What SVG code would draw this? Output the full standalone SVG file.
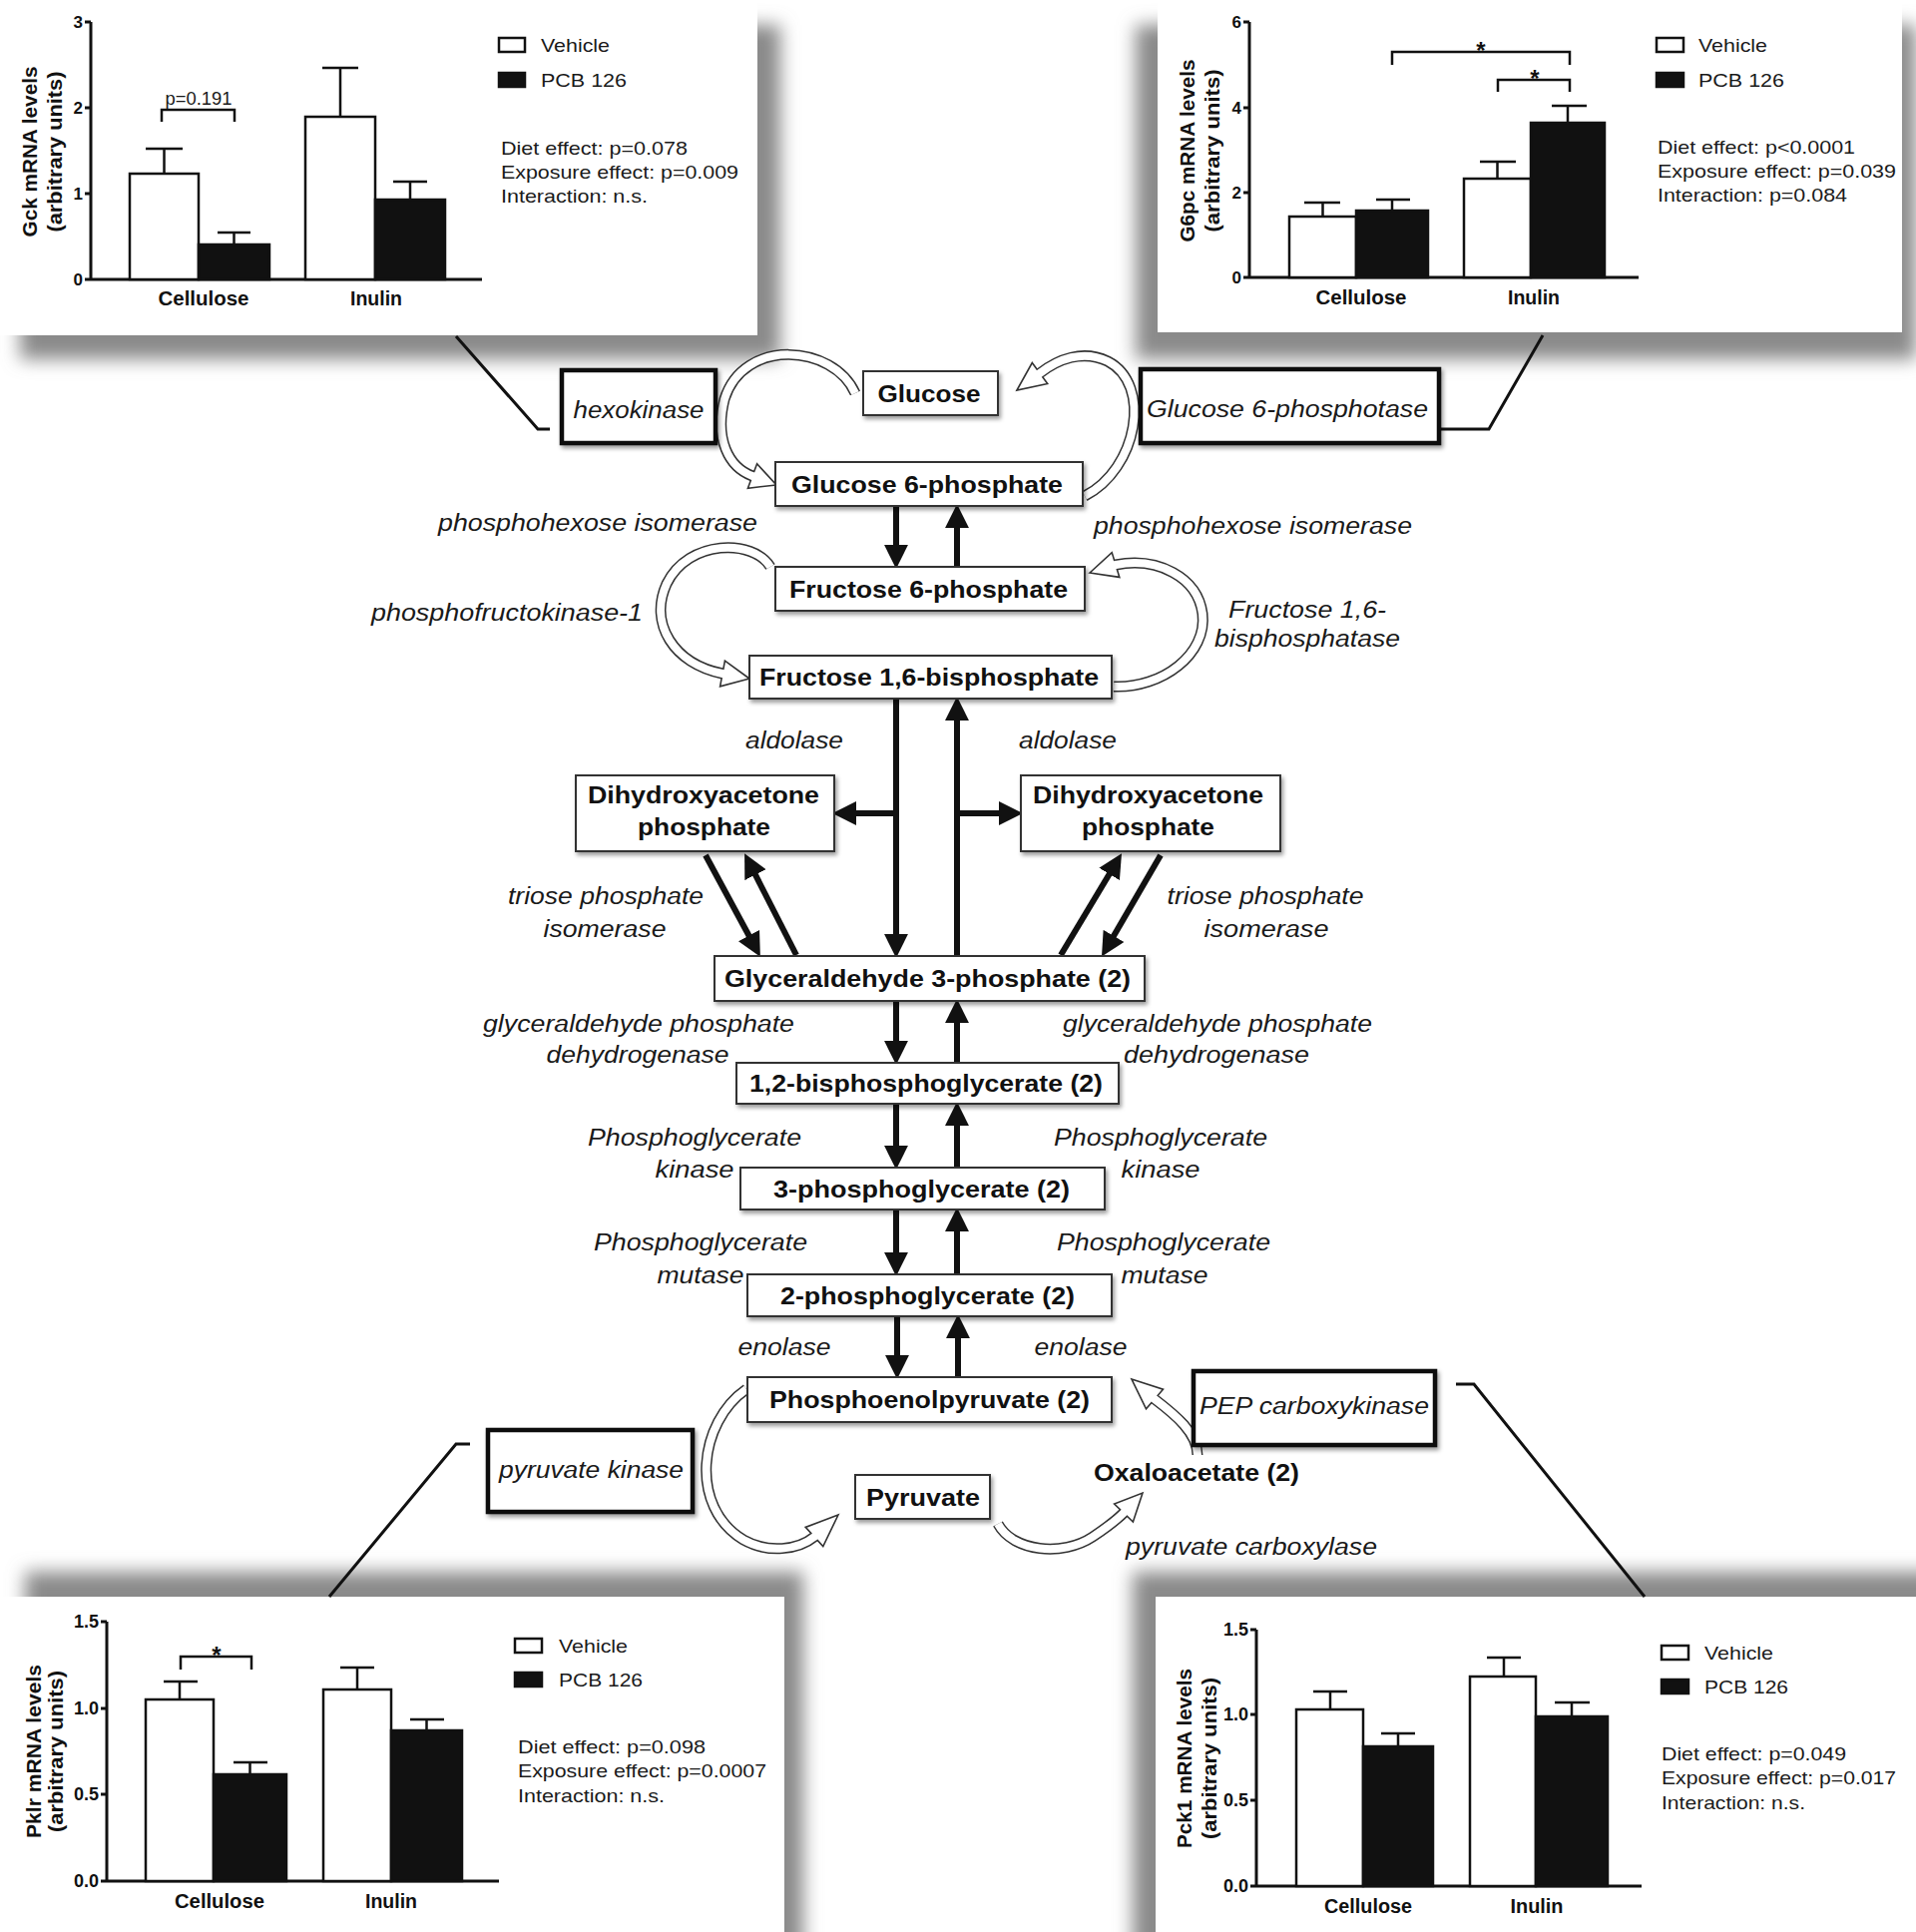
<svg xmlns="http://www.w3.org/2000/svg" width="1920" height="1936" viewBox="0 0 1920 1936">
<defs>
<filter id="blur" x="-10%" y="-20%" width="120%" height="140%"><feGaussianBlur stdDeviation="9"/></filter>
<filter id="ds" x="-10%" y="-20%" width="130%" height="160%"><feDropShadow dx="2" dy="3" stdDeviation="2" flood-color="#000" flood-opacity="0.4"/></filter>
<marker id="ah" markerUnits="userSpaceOnUse" markerWidth="24" markerHeight="24" viewBox="0 -11 22 22" refX="1" refY="0" orient="auto"><path d="M0,-11 L22,0 L0,11 z" fill="#111"/></marker>
<style>
.psh{fill:#8a8a8a;filter:url(#blur)}
.panel{fill:#fff}
.ax{stroke:#111;stroke-width:3;fill:none}
.bw{fill:#fff;stroke:#111;stroke-width:2.5}
.bk{fill:#111;stroke:#111;stroke-width:2.5}
.eb{stroke:#111;stroke-width:2.5;fill:none}
.ct{font-family:"Liberation Sans",Arial,Helvetica,sans-serif;font-size:19px;fill:#1a1a1a}
.cb{font-family:"Liberation Sans",Arial,Helvetica,sans-serif;font-size:20px;font-weight:bold;fill:#111;text-anchor:middle}
.tk{font-family:"Liberation Sans",Arial,Helvetica,sans-serif;font-size:17px;font-weight:bold;fill:#111;text-anchor:end}
.tk2{font-family:"Liberation Sans",Arial,Helvetica,sans-serif;font-size:18px;font-weight:bold;fill:#111;text-anchor:end}
.st{font-family:"Liberation Sans",Arial,Helvetica,sans-serif;font-size:24px;font-weight:bold;fill:#111;text-anchor:middle}
.node rect{fill:#fff;stroke:#333;stroke-width:2;filter:url(#ds)}
.enz rect{fill:#fff;stroke:#111;stroke-width:4.5;filter:url(#ds)}
.nt{font-family:"Liberation Sans",Arial,Helvetica,sans-serif;font-size:24px;font-weight:bold;fill:#111;text-anchor:middle}
.it{font-family:"Liberation Sans",Arial,Helvetica,sans-serif;font-size:23px;font-style:italic;fill:#1a1a1a;text-anchor:middle}
.sa{stroke:#111;stroke-width:6;marker-end:url(#ah)}
.ho{stroke:#333;stroke-width:11;fill:none}
.hi{stroke:#fff;stroke-width:8;fill:none}
.hh{fill:#fff;stroke:#333;stroke-width:1.6;stroke-linejoin:miter}
.cl{stroke:#111;stroke-width:3;fill:none}
</style>
</defs>
<rect width="1920" height="1936" fill="#fff"/>

<!-- panel shadows and panels -->
<rect class="psh" x="20" y="25" width="762" height="335"/>
<rect class="psh" x="1138" y="25" width="782" height="335"/>
<rect class="psh" x="25" y="1575" width="780" height="400"/>
<rect class="psh" x="1135" y="1575" width="820" height="400"/>
<rect class="panel" x="0" y="0" width="759" height="336"/>
<rect class="panel" x="1160" y="0" width="746" height="333"/>
<rect class="panel" x="0" y="1600" width="786" height="336"/>
<rect class="panel" x="1158" y="1600" width="762" height="336"/>

<!-- Gck chart -->
<g id="chart-gck">
<path class="ax" d="M91,22 V280 H483 M85,22 H91 M85,108 H91 M85,194 H91 M85,280 H91"/>
<text class="tk" x="83" y="28">3</text><text class="tk" x="83" y="114">2</text><text class="tk" x="83" y="200">1</text><text class="tk" x="83" y="286">0</text>
<rect class="bw" x="130" y="174" width="69" height="106"/>
<rect class="bk" x="199" y="245" width="71" height="35"/>
<rect class="bw" x="306" y="117" width="70" height="163"/>
<rect class="bk" x="376" y="200" width="70" height="80"/>
<path class="eb" d="M164.5,174 V149 M146,149 H183 M234.5,245 V233 M218,233 H251 M341,117 V68 M323,68 H359 M411,200 V182 M394,182 H428"/>
<path class="eb" d="M162,122 V110 H235 V122"/>
<text class="ct" x="199" y="105" text-anchor="middle" font-size="16" textLength="67" lengthAdjust="spacingAndGlyphs">p=0.191</text>
<text class="cb" x="204" y="306" textLength="91" lengthAdjust="spacingAndGlyphs">Cellulose</text>
<text class="cb" x="377" y="306" textLength="52" lengthAdjust="spacingAndGlyphs">Inulin</text>
<text class="cb" transform="translate(37,152) rotate(-90)" textLength="171" lengthAdjust="spacingAndGlyphs">Gck mRNA levels</text>
<text class="cb" transform="translate(62,152) rotate(-90)" textLength="161" lengthAdjust="spacingAndGlyphs">(arbitrary units)</text>
<rect class="bw" x="500" y="38" width="26" height="14"/>
<rect class="bk" x="500" y="73" width="26" height="14"/>
<text class="ct" x="542" y="52" textLength="69" lengthAdjust="spacingAndGlyphs">Vehicle</text>
<text class="ct" x="542" y="87" textLength="86" lengthAdjust="spacingAndGlyphs">PCB 126</text>
<text class="ct" x="502" y="155" textLength="187" lengthAdjust="spacingAndGlyphs">Diet effect: p=0.078</text>
<text class="ct" x="502" y="179" textLength="238" lengthAdjust="spacingAndGlyphs">Exposure effect: p=0.009</text>
<text class="ct" x="502" y="203" textLength="147" lengthAdjust="spacingAndGlyphs">Interaction: n.s.</text>
</g>

<!-- G6pc chart -->
<g id="chart-g6pc">
<path class="ax" d="M1252,22 V278 H1642 M1246,22 H1252 M1246,108 H1252 M1246,193 H1252 M1246,278 H1252"/>
<text class="tk" x="1244" y="28">6</text><text class="tk" x="1244" y="114">4</text><text class="tk" x="1244" y="199">2</text><text class="tk" x="1244" y="284">0</text>
<rect class="bw" x="1292" y="217" width="67" height="61"/>
<rect class="bk" x="1359" y="211" width="72" height="67"/>
<rect class="bw" x="1467" y="179" width="67" height="99"/>
<rect class="bk" x="1534" y="123" width="74" height="155"/>
<path class="eb" d="M1325.5,217 V203 M1307,203 H1343 M1395,211 V200 M1379,200 H1413 M1500.5,179 V162 M1483,162 H1519 M1571,123 V106 M1555,106 H1590"/>
<path class="eb" d="M1395,65 V52 H1573 V65 M1501,92 V80 H1573 V92"/>
<text class="st" x="1484" y="59">*</text>
<text class="st" x="1538" y="87">*</text>
<text class="cb" x="1364" y="305" textLength="91" lengthAdjust="spacingAndGlyphs">Cellulose</text>
<text class="cb" x="1537" y="305" textLength="52" lengthAdjust="spacingAndGlyphs">Inulin</text>
<text class="cb" transform="translate(1197,151) rotate(-90)" textLength="183" lengthAdjust="spacingAndGlyphs">G6pc mRNA levels</text>
<text class="cb" transform="translate(1222,151) rotate(-90)" textLength="163" lengthAdjust="spacingAndGlyphs">(arbitrary units)</text>
<rect class="bw" x="1660" y="38" width="27" height="14"/>
<rect class="bk" x="1660" y="73" width="27" height="14"/>
<text class="ct" x="1702" y="52" textLength="69" lengthAdjust="spacingAndGlyphs">Vehicle</text>
<text class="ct" x="1702" y="87" textLength="86" lengthAdjust="spacingAndGlyphs">PCB 126</text>
<text class="ct" x="1661" y="154" textLength="198" lengthAdjust="spacingAndGlyphs">Diet effect: p&lt;0.0001</text>
<text class="ct" x="1661" y="178" textLength="239" lengthAdjust="spacingAndGlyphs">Exposure effect: p=0.039</text>
<text class="ct" x="1661" y="202" textLength="190" lengthAdjust="spacingAndGlyphs">Interaction: p=0.084</text>
</g>

<!-- Pklr chart -->
<g id="chart-pklr">
<path class="ax" d="M107,1625 V1885 H500 M101,1625 H107 M101,1712 H107 M101,1798 H107 M101,1885 H107"/>
<text class="tk2" x="99" y="1631">1.5</text><text class="tk2" x="99" y="1718">1.0</text><text class="tk2" x="99" y="1804">0.5</text><text class="tk2" x="99" y="1891">0.0</text>
<rect class="bw" x="146" y="1703" width="68" height="182"/>
<rect class="bk" x="214" y="1778" width="73" height="107"/>
<rect class="bw" x="324" y="1693" width="68" height="192"/>
<rect class="bk" x="392" y="1734" width="71" height="151"/>
<path class="eb" d="M180,1703 V1685 M164,1685 H198 M250.5,1778 V1766 M234,1766 H268 M358,1693 V1671 M341,1671 H375 M427.5,1734 V1723 M411,1723 H445"/>
<path class="eb" d="M181,1673 V1660 H252 V1673"/>
<text class="st" x="217" y="1667">*</text>
<text class="cb" x="220" y="1912" textLength="90" lengthAdjust="spacingAndGlyphs">Cellulose</text>
<text class="cb" x="392" y="1912" textLength="52" lengthAdjust="spacingAndGlyphs">Inulin</text>
<text class="cb" transform="translate(41,1755) rotate(-90)" textLength="174" lengthAdjust="spacingAndGlyphs">Pklr mRNA levels</text>
<text class="cb" transform="translate(63,1755) rotate(-90)" textLength="162" lengthAdjust="spacingAndGlyphs">(arbitrary units)</text>
<rect class="bw" x="516" y="1642" width="27" height="14"/>
<rect class="bk" x="516" y="1676" width="27" height="14"/>
<text class="ct" x="560" y="1656" textLength="69" lengthAdjust="spacingAndGlyphs">Vehicle</text>
<text class="ct" x="560" y="1690" textLength="84" lengthAdjust="spacingAndGlyphs">PCB 126</text>
<text class="ct" x="519" y="1757" textLength="188" lengthAdjust="spacingAndGlyphs">Diet effect: p=0.098</text>
<text class="ct" x="519" y="1781" textLength="249" lengthAdjust="spacingAndGlyphs">Exposure effect: p=0.0007</text>
<text class="ct" x="519" y="1806" textLength="147" lengthAdjust="spacingAndGlyphs">Interaction: n.s.</text>
</g>

<!-- Pck1 chart -->
<g id="chart-pck1">
<path class="ax" d="M1259,1633 V1890 H1645 M1253,1633 H1259 M1253,1718 H1259 M1253,1804 H1259 M1253,1890 H1259"/>
<text class="tk2" x="1251" y="1639">1.5</text><text class="tk2" x="1251" y="1724">1.0</text><text class="tk2" x="1251" y="1810">0.5</text><text class="tk2" x="1251" y="1896">0.0</text>
<rect class="bw" x="1299" y="1713" width="67" height="177"/>
<rect class="bk" x="1366" y="1750" width="70" height="140"/>
<rect class="bw" x="1473" y="1680" width="66" height="210"/>
<rect class="bk" x="1539" y="1720" width="72" height="170"/>
<path class="eb" d="M1333,1713 V1695 M1316,1695 H1350 M1401,1750 V1737 M1384,1737 H1418 M1507,1680 V1661 M1490,1661 H1524 M1575,1720 V1706 M1558,1706 H1593"/>
<text class="cb" x="1371" y="1917" textLength="88" lengthAdjust="spacingAndGlyphs">Cellulose</text>
<text class="cb" x="1540" y="1917" textLength="53" lengthAdjust="spacingAndGlyphs">Inulin</text>
<text class="cb" transform="translate(1194,1762) rotate(-90)" textLength="180" lengthAdjust="spacingAndGlyphs">Pck1 mRNA levels</text>
<text class="cb" transform="translate(1219,1762) rotate(-90)" textLength="162" lengthAdjust="spacingAndGlyphs">(arbitrary units)</text>
<rect class="bw" x="1665" y="1649" width="27" height="14"/>
<rect class="bk" x="1665" y="1683" width="27" height="14"/>
<text class="ct" x="1708" y="1663" textLength="69" lengthAdjust="spacingAndGlyphs">Vehicle</text>
<text class="ct" x="1708" y="1697" textLength="84" lengthAdjust="spacingAndGlyphs">PCB 126</text>
<text class="ct" x="1665" y="1764" textLength="185" lengthAdjust="spacingAndGlyphs">Diet effect: p=0.049</text>
<text class="ct" x="1665" y="1788" textLength="235" lengthAdjust="spacingAndGlyphs">Exposure effect: p=0.017</text>
<text class="ct" x="1665" y="1813" textLength="144" lengthAdjust="spacingAndGlyphs">Interaction: n.s.</text>
</g>

<!-- connectors -->
<g id="connectors">
<polyline class="cl" points="457,337 539,430 551,430"/>
<polyline class="cl" points="1442,430 1492,430 1546,336"/>
<polyline class="cl" points="471,1447 457,1447 330,1600"/>
<polyline class="cl" points="1459,1387 1477,1387 1648,1600"/>

<line class="sa" x1="898" y1="507" x2="898" y2="547"/>
<line class="sa" x1="959" y1="568" x2="959" y2="528"/>
<line class="sa" x1="898" y1="700" x2="898" y2="937"/>
<line class="sa" x1="959" y1="958" x2="959" y2="721"/>
<line class="sa" x1="901" y1="815" x2="857" y2="815"/>
<line class="sa" x1="956" y1="815" x2="1002" y2="815"/>
<line class="sa" x1="707" y1="857" x2="751" y2="938.5"/>
<line class="sa" x1="798" y1="957" x2="756.5" y2="875.7"/>
<line class="sa" x1="1063" y1="957" x2="1112.2" y2="875"/>
<line class="sa" x1="1163" y1="857" x2="1115.5" y2="938.8"/>
<line class="sa" x1="898" y1="1003" x2="898" y2="1044"/>
<line class="sa" x1="959" y1="1065" x2="959" y2="1024"/>
<line class="sa" x1="898" y1="1106" x2="898" y2="1149"/>
<line class="sa" x1="959" y1="1170" x2="959" y2="1127"/>
<line class="sa" x1="898" y1="1212" x2="898" y2="1256"/>
<line class="sa" x1="959" y1="1277" x2="959" y2="1233"/>
<line class="sa" x1="899" y1="1319" x2="899" y2="1359"/>
<line class="sa" x1="960" y1="1380" x2="960" y2="1340"/>

<path class="ho" d="M857,394 C835,345 745,338 726,400 C716,440 730,468 754,477"/>
<polygon class="hh" points="778,486 749.4,489.2 758.6,464.8"/>
<path class="hi" d="M857,394 C835,345 745,338 726,400 C716,440 730,468 754,477 l3,1.1"/>

<path class="ho" d="M1087,497 C1140,470 1155,385 1110,362 C1085,350 1060,360 1042,374"/>
<polygon class="hh" points="1019,391 1034.3,363.5 1049.7,384.5"/>
<path class="hi" d="M1087,497 C1140,470 1155,385 1110,362 C1085,350 1060,360 1042,374 l-2.4,1.8"/>

<path class="ho" d="M772,568 C755,540 690,540 668,585 C650,625 675,665 724,675"/>
<polygon class="hh" points="751,680 721.6,687.8 726.4,662.2"/>
<path class="hi" d="M772,568 C755,540 690,540 668,585 C650,625 675,665 724,675 l3,0.55"/>

<path class="ho" d="M1116,688 C1165,690 1210,655 1205,615 C1200,578 1160,558 1118,566"/>
<polygon class="hh" points="1092,574 1114.2,553.6 1121.8,578.4"/>
<path class="hi" d="M1116,688 C1165,690 1210,655 1205,615 C1200,578 1160,558 1118,566 l-2.9,0.9"/>

<path class="ho" d="M748,1392 C700,1425 690,1510 745,1543 C770,1557 800,1553 816,1540"/>
<polygon class="hh" points="840,1518 824.8,1549.6 807.2,1530.4"/>
<path class="hi" d="M748,1392 C700,1425 690,1510 745,1543 C770,1557 800,1553 816,1540 l2.2,-2"/>

<path class="ho" d="M1000,1527 C1015,1555 1065,1560 1095,1540 C1110,1530 1118,1524 1126,1516"/>
<polygon class="hh" points="1145,1496 1135.4,1525 1116.6,1507"/>
<path class="hi" d="M1000,1527 C1015,1555 1065,1560 1095,1540 C1110,1530 1118,1524 1126,1516 l2,-2.2"/>

<path class="ho" d="M1200,1458 C1200,1436 1178,1418 1157,1402"/>
<polygon class="hh" points="1134,1382 1165.5,1392.2 1148.5,1411.8"/>
<path class="hi" d="M1200,1458 C1200,1436 1178,1418 1157,1402 l-2.3,-2"/>
</g>

<!-- metabolite nodes -->
<g id="n-glucose" class="node"><rect x="865" y="372" width="135" height="44"/><text class="nt" x="931" y="403" textLength="103" lengthAdjust="spacingAndGlyphs">Glucose</text></g>
<g id="n-g6p" class="node"><rect x="777" y="463" width="308" height="44"/><text class="nt" x="929" y="494" textLength="272" lengthAdjust="spacingAndGlyphs">Glucose 6-phosphate</text></g>
<g id="n-f6p" class="node"><rect x="777" y="568" width="310" height="44"/><text class="nt" x="930.5" y="599" textLength="279" lengthAdjust="spacingAndGlyphs">Fructose 6-phosphate</text></g>
<g id="n-f16bp" class="node"><rect x="751" y="657" width="363" height="43"/><text class="nt" x="931" y="687" textLength="340" lengthAdjust="spacingAndGlyphs">Fructose 1,6-bisphosphate</text></g>
<g id="n-dhap-l" class="node"><rect x="577" y="777" width="259" height="76"/><text class="nt" x="705" y="805" textLength="232" lengthAdjust="spacingAndGlyphs">Dihydroxyacetone</text><text class="nt" x="705.5" y="837" textLength="133" lengthAdjust="spacingAndGlyphs">phosphate</text></g>
<g id="n-dhap-r" class="node"><rect x="1023" y="777" width="260" height="76"/><text class="nt" x="1150.5" y="805" textLength="231" lengthAdjust="spacingAndGlyphs">Dihydroxyacetone</text><text class="nt" x="1150.5" y="837" textLength="133" lengthAdjust="spacingAndGlyphs">phosphate</text></g>
<g id="n-gap" class="node"><rect x="716" y="958" width="431" height="45"/><text class="nt" x="929.5" y="989" textLength="407" lengthAdjust="spacingAndGlyphs">Glyceraldehyde 3-phosphate (2)</text></g>
<g id="n-bpg" class="node"><rect x="738" y="1065" width="383" height="41"/><text class="nt" x="928" y="1094" textLength="354" lengthAdjust="spacingAndGlyphs">1,2-bisphosphoglycerate (2)</text></g>
<g id="n-3pg" class="node"><rect x="742" y="1170" width="365" height="42"/><text class="nt" x="923.5" y="1200" textLength="297" lengthAdjust="spacingAndGlyphs">3-phosphoglycerate (2)</text></g>
<g id="n-2pg" class="node"><rect x="749" y="1277" width="365" height="42"/><text class="nt" x="929.5" y="1307" textLength="295" lengthAdjust="spacingAndGlyphs">2-phosphoglycerate (2)</text></g>
<g id="n-pep" class="node"><rect x="749" y="1380" width="365" height="45"/><text class="nt" x="931.5" y="1411" textLength="321" lengthAdjust="spacingAndGlyphs">Phosphoenolpyruvate (2)</text></g>
<g id="n-pyr" class="node"><rect x="857" y="1478" width="135" height="44"/><text class="nt" x="925" y="1509" textLength="114" lengthAdjust="spacingAndGlyphs">Pyruvate</text></g>
<g id="n-oaa"><text class="nt" x="1199" y="1484" textLength="206" lengthAdjust="spacingAndGlyphs">Oxaloacetate (2)</text></g>

<!-- enzyme boxes -->
<g id="e-hk" class="enz"><rect x="563" y="371" width="154" height="73"/><text class="it" x="640" y="419" textLength="131" lengthAdjust="spacingAndGlyphs">hexokinase</text></g>
<g id="e-g6pase" class="enz"><rect x="1143" y="370" width="299" height="74"/><text class="it" x="1290" y="418" textLength="282" lengthAdjust="spacingAndGlyphs">Glucose 6-phosphotase</text></g>
<g id="e-pk" class="enz"><rect x="489" y="1433" width="205" height="82"/><text class="it" x="592.5" y="1481" textLength="185" lengthAdjust="spacingAndGlyphs">pyruvate kinase</text></g>
<g id="e-pepck" class="enz"><rect x="1196" y="1374" width="242" height="74"/><text class="it" x="1317" y="1417" textLength="230" lengthAdjust="spacingAndGlyphs">PEP carboxykinase</text></g>

<!-- enzyme labels -->
<g id="labels">
<text class="it" x="599" y="532" textLength="320" lengthAdjust="spacingAndGlyphs">phosphohexose isomerase</text>
<text class="it" x="1255.5" y="535" textLength="319" lengthAdjust="spacingAndGlyphs">phosphohexose isomerase</text>
<text class="it" x="508" y="622" textLength="272" lengthAdjust="spacingAndGlyphs">phosphofructokinase-1</text>
<text class="it" x="1310" y="619" textLength="158" lengthAdjust="spacingAndGlyphs">Fructose 1,6-</text>
<text class="it" x="1310" y="648" textLength="186" lengthAdjust="spacingAndGlyphs">bisphosphatase</text>
<text class="it" x="796" y="750" textLength="98" lengthAdjust="spacingAndGlyphs">aldolase</text>
<text class="it" x="1070" y="750" textLength="98" lengthAdjust="spacingAndGlyphs">aldolase</text>
<text class="it" x="607" y="906" textLength="196" lengthAdjust="spacingAndGlyphs">triose phosphate</text>
<text class="it" x="606" y="939" textLength="123" lengthAdjust="spacingAndGlyphs">isomerase</text>
<text class="it" x="1268" y="906" textLength="197" lengthAdjust="spacingAndGlyphs">triose phosphate</text>
<text class="it" x="1269" y="939" textLength="125" lengthAdjust="spacingAndGlyphs">isomerase</text>
<text class="it" x="640" y="1034" textLength="312" lengthAdjust="spacingAndGlyphs">glyceraldehyde phosphate</text>
<text class="it" x="639" y="1065" textLength="183" lengthAdjust="spacingAndGlyphs">dehydrogenase</text>
<text class="it" x="1220" y="1034" textLength="310" lengthAdjust="spacingAndGlyphs">glyceraldehyde phosphate</text>
<text class="it" x="1219" y="1065" textLength="186" lengthAdjust="spacingAndGlyphs">dehydrogenase</text>
<text class="it" x="696" y="1148" textLength="214" lengthAdjust="spacingAndGlyphs">Phosphoglycerate</text>
<text class="it" x="696" y="1180" textLength="79" lengthAdjust="spacingAndGlyphs">kinase</text>
<text class="it" x="1163" y="1148" textLength="214" lengthAdjust="spacingAndGlyphs">Phosphoglycerate</text>
<text class="it" x="1163" y="1180" textLength="79" lengthAdjust="spacingAndGlyphs">kinase</text>
<text class="it" x="702" y="1253" textLength="214" lengthAdjust="spacingAndGlyphs">Phosphoglycerate</text>
<text class="it" x="702" y="1286" textLength="87" lengthAdjust="spacingAndGlyphs">mutase</text>
<text class="it" x="1166" y="1253" textLength="214" lengthAdjust="spacingAndGlyphs">Phosphoglycerate</text>
<text class="it" x="1167" y="1286" textLength="87" lengthAdjust="spacingAndGlyphs">mutase</text>
<text class="it" x="786" y="1358" textLength="93" lengthAdjust="spacingAndGlyphs">enolase</text>
<text class="it" x="1083" y="1358" textLength="93" lengthAdjust="spacingAndGlyphs">enolase</text>
<text class="it" x="1254" y="1558" textLength="252" lengthAdjust="spacingAndGlyphs">pyruvate carboxylase</text>
</g>
</svg>
